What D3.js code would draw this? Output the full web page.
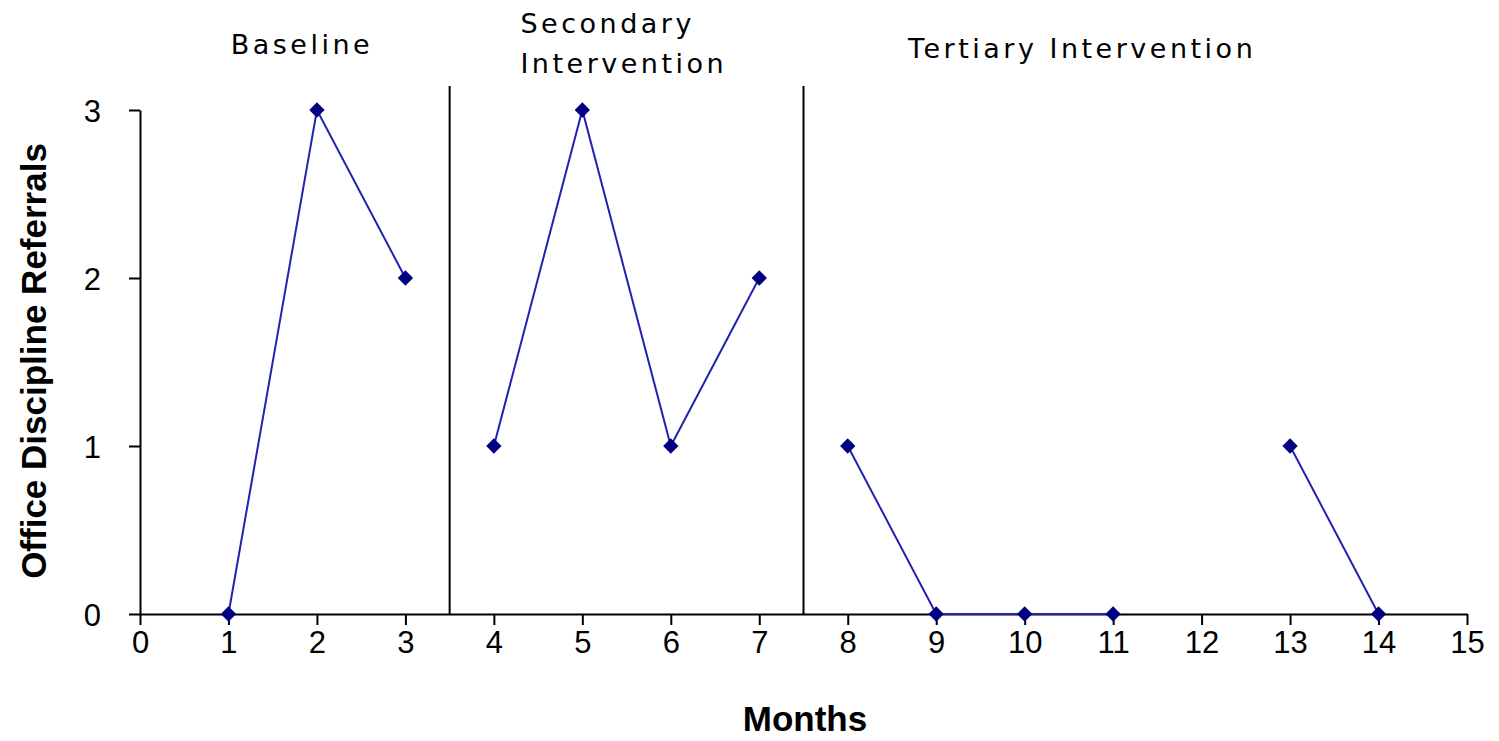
<!DOCTYPE html>
<html>
<head>
<meta charset="utf-8">
<script src="https://cdn.jsdelivr.net/npm/d3@7"></script>
<style>
body { margin: 0; background: #fff; }
svg text { fill: #000; }
</style>
</head>
<body>
<svg id="chart" width="1499" height="741"></svg>
<script>
// months and referral counts per phase (null = no data)
var baselineMonths = [1, 2, 3];
var baselineValues = [0, 3, 2];
var secondaryMonths = [4, 5, 6, 7];
var secondaryValues = [1, 3, 1, 2];
var tertiaryMonths = [8, 9, 10, 11, 12, 13, 14];
var tertiaryValues = [1, 0, 0, 0, null, 1, 0];

var xTicks = d3.range(0, 16);
var yTicks = [0, 1, 2, 3];
var phaseBreaks = [3.5, 7.5];
var phaseLabels = [
	{lines: ['Baseline'], x: 1.83, anchor: 'middle', y0: 54},
	{lines: ['Secondary', 'Intervention'], x: 4.3, anchor: 'start', y0: 33},
	{lines: ['Tertiary Intervention'], x: 10.65, anchor: 'middle', y0: 58}
];

var svg = d3.select('#chart');
var x = d3.scaleLinear().domain([0, 15]).range([140, 1467]);
var y = d3.scaleLinear().domain([0, 3]).range([614, 110]);

// axes
var xAxis = svg.append('g').attr('transform', 'translate(0,614)')
	.call(d3.axisBottom(x).tickValues(xTicks).tickSize(11).tickPadding(6).tickSizeOuter(0));
var yAxis = svg.append('g').attr('transform', 'translate(140,0)')
	.call(d3.axisLeft(y).tickValues(yTicks).tickFormat(d3.format('d')).tickSize(11).tickPadding(28).tickSizeOuter(0));

[xAxis, yAxis].forEach(function(a) {
	a.select('.domain').attr('stroke', '#000').attr('stroke-width', 2);
	a.selectAll('.tick line').attr('stroke', '#000').attr('stroke-width', 2);
	a.selectAll('.tick text')
		.style('font-family', 'Liberation Sans, Arial, sans-serif')
		.style('font-size', '31px')
		.attr('fill', '#222');
});
yAxis.selectAll('.tick text').attr('dy', '0.36em');

// phase change lines
svg.selectAll('.phase')
	.data(phaseBreaks)
	.enter()
	.append('line')
	.attr('class', 'phase')
	.attr('x1', function(d) { return x(d); })
	.attr('x2', function(d) { return x(d); })
	.attr('y1', 86)
	.attr('y2', 614)
	.attr('stroke', '#000')
	.attr('stroke-width', 2);

// phase labels
phaseLabels.forEach(function(p) {
	var t = svg.append('text')
		.attr('text-anchor', p.anchor)
		.style('font-family', 'DejaVu Sans, Verdana, sans-serif')
		.style('font-size', '27px')
		.style('letter-spacing', '3.5px');
	p.lines.forEach(function(l, i) {
		t.append('tspan').attr('x', x(p.x)).attr('y', p.y0 + i * 40).text(l);
	});
});

// data lines
var line = d3.line()
	.defined(function(d) { return d.v !== null; })
	.x(function(d) { return x(d.m); })
	.y(function(d) { return y(d.v); });

function toPoints(months, values) {
	return months.map(function(m, i) { return {m: m, v: values[i]}; });
}

var phases = [
	toPoints(baselineMonths, baselineValues),
	toPoints(secondaryMonths, secondaryValues),
	toPoints(tertiaryMonths, tertiaryValues)
];

var g = svg.append('g');
phases.forEach(function(pts) {
	g.append('path')
		.datum(pts)
		.attr('d', line)
		.attr('fill', 'none')
		.attr('stroke', '#2222b0')
		.attr('stroke-width', 2);

	g.selectAll(null)
		.data(pts.filter(function(d) { return d.v !== null; }))
		.enter()
		.append('path')
		.attr('d', d3.symbol().type(d3.symbolDiamond2).size(150))
		.attr('transform', function(d) { return 'translate(' + x(d.m) + ',' + y(d.v) + ')'; })
		.attr('fill', '#000080');
});

// axis titles
svg.append('text')
	.attr('x', 805)
	.attr('y', 731)
	.attr('text-anchor', 'middle')
	.style('font-family', 'Liberation Sans, Arial, sans-serif')
	.style('font-size', '35px')
	.style('font-weight', 'bold')
	.text('Months');

svg.append('text')
	.attr('transform', 'translate(46,361) rotate(-90)')
	.attr('text-anchor', 'middle')
	.style('font-family', 'Liberation Sans, Arial, sans-serif')
	.style('font-size', '35px')
	.style('font-weight', 'bold')
	.text('Office Discipline Referrals');
</script>
</body>
</html>
